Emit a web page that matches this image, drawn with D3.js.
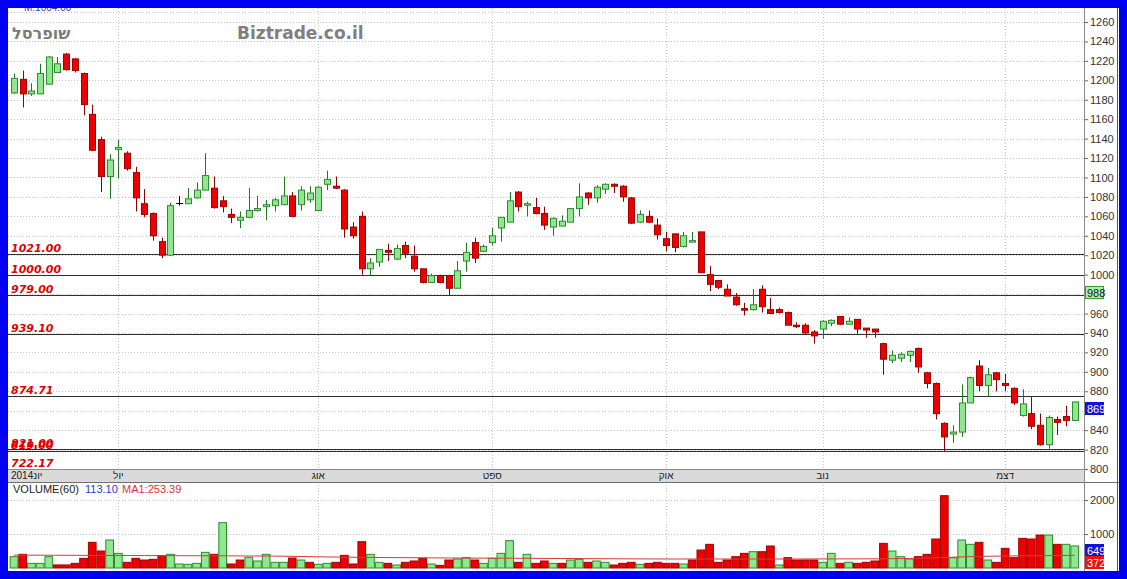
<!DOCTYPE html>
<html><head><meta charset="utf-8">
<script src="https://cdn.jsdelivr.net/npm/d3@7"></script>
<style>html,body{margin:0;padding:0;background:#fff;}svg{display:block}</style>
</head><body>
<svg id="c" width="1127" height="579"></svg>
<script>
// ---------- DATA ----------
const opens  = [1187,1201,1186,1186,1196,1208,1227,1222,1207,1165,1139,1101,1129,1125,1105,1073,1063,1034,1020,1074,
                1073,1079,1087,1089,1076,1062,1056,1059,1066,1070,1071,1072,1081,1072,1077,1066,1093,1091,1087,1049,
                1060,1006,1013,1025,1016,1030,1019,1006,992,999,999,986,1014,1033,1024,1033,1048,1054,1085,1072,
                1069,1063,1049,1050,1054,1068,1084,1079,1088,1093,1091,1079,1054,1060,1051,1037,1042,1029,1034,1044,
                1000,994,985,977,965,964,985,964,964,961,948,948,941,944,950,957,949,954,945,944,
                929,912,914,917,924,899,888,847,836,838,868,906,886,899,888,883,855,857,845,825,
                851,854,850];
const highs  = [1207,1210,1197,1217,1225,1224,1228,1223,1208,1175,1142,1124,1139,1127,1111,1088,1064,1038,1074,1081,
                1089,1095,1125,1101,1081,1068,1065,1089,1081,1077,1079,1101,1085,1091,1091,1091,1107,1101,1088,1054,
                1065,1017,1026,1032,1031,1034,1030,1006,1001,1000,1000,1014,1033,1038,1031,1048,1059,1085,1086,1075,
                1079,1070,1059,1061,1068,1094,1085,1092,1094,1094,1092,1080,1066,1066,1058,1044,1042,1044,1044,1044,
                1009,994,990,981,971,985,989,976,966,962,951,950,943,953,954,957,956,954,945,944,
                930,922,920,922,925,900,889,848,845,887,895,912,904,900,898,884,882,874,857,855,
                854,865,869];
const lows   = [1186,1172,1184,1186,1196,1208,1210,1208,1164,1127,1085,1078,1099,1107,1065,1059,1035,1017,1019,1071,
                1073,1078,1087,1068,1064,1053,1048,1058,1065,1056,1065,1072,1059,1066,1074,1066,1087,1088,1038,1037,
                1000,999,1008,1014,1015,1017,1003,991,992,991,978,986,1003,1012,1023,1030,1034,1054,1065,1060,
                1062,1046,1040,1050,1054,1060,1072,1074,1083,1084,1075,1052,1053,1053,1036,1024,1023,1028,1034,1002,
                983,985,978,968,958,963,961,960,960,948,945,939,929,934,947,948,949,939,935,935,
                897,909,910,910,899,883,851,818,827,833,868,880,875,880,880,866,854,841,824,821,
                835,844,850];
const closes = [1202,1186,1189,1207,1224,1217,1211,1210,1175,1128,1101,1118,1131,1109,1079,1062,1040,1020,1071,1074,
                1078,1087,1102,1069,1070,1059,1059,1066,1068,1072,1077,1081,1060,1087,1084,1090,1098,1089,1047,1040,
                1006,1012,1026,1023,1027,1022,1006,992,999,992,986,1004,1023,1017,1029,1040,1059,1076,1070,1073,
                1063,1051,1058,1055,1068,1080,1079,1090,1093,1091,1080,1053,1062,1054,1041,1030,1028,1040,1035,1002,
                990,987,978,969,964,969,967,960,961,948,947,940,937,952,953,949,952,944,943,941,
                913,917,918,921,905,888,857,833,838,868,894,886,897,892,886,868,867,844,825,853,
                848,850,869];
const volumes = [333,402,137,137,333,90,90,137,284,755,
                 500,823,431,167,284,235,255,363,402,118,
                 108,137,461,402,1333,118,235,314,206,402,
                 167,167,294,235,167,108,137,167,372,118,
                 774,402,167,137,88,167,206,284,118,78,
                 235,265,304,235,137,284,431,804,167,402,
                 137,206,137,137,235,255,167,206,167,88,
                 137,167,108,137,167,137,137,118,235,529,
                 696,167,235,333,431,480,480,647,88,304,
                 235,235,235,167,431,137,167,137,167,206,
                 725,500,333,265,333,402,853,2127,304,823,
                 696,755,235,167,578,304,872,853,970,970,
                 696,696,649];
// volume moving-average line at a few bars
const maIndex = [0,15,30,36,50,63,75,90,100,106,110,115,122];
const maValue = [380,365,350,325,295,280,265,265,270,300,335,355,372];

const monthLabels = ["2014יונ","יול","אוג","ספט","אוק","נוב","דצמ"];
const monthStarts = [0,12,35,55,75,93,114];

const levelValues = [1021.00,1000.00,979.00,939.10,874.71,821.00,819.00,722.17];
const levelLabels = ["1021.00","1000.00","979.00","939.10","874.71","821.00","819.00","722.17"];

const priceTicks = d3.range(800,1261,20);
const volTicks = [1000,2000];
const markPrice = 988, lastPrice = 869, lastVolume = 649, lastMA = 372;
const headerValue = "M:1004.00";
const volTitle = "VOLUME(60)", volValueText = "113.10", maText = "MA1:253.39";

// ---------- LAYOUT ----------
const svg = d3.select("#c");
const L = 8, R = 1084, T = 8, PB = 469, AB = 482, VB = 571, RE = 1119;
const x = d3.scaleBand().domain(d3.range(closes.length)).range([9.65, 1079.05]);
const cx = i => x(i) + x.bandwidth()/2;
const y = d3.scaleLinear().domain([800,1260]).range([469,22]);
const yv = d3.scaleLinear().domain([0,2000]).range([568,500]);

svg.append("rect").attr("x",0).attr("y",0).attr("width",1127).attr("height",579).attr("fill","#fff");

// grid
const grid = svg.append("g").attr("stroke","#c9c9c9").attr("stroke-dasharray","1,2").attr("stroke-width",1);
grid.selectAll("line.h").data(priceTicks).join("line")
  .attr("x1",L).attr("x2",R).attr("y1",d=>Math.round(y(d))+0.5).attr("y2",d=>Math.round(y(d))+0.5);
grid.append("line").attr("x1",L).attr("x2",R).attr("y1",12.5).attr("y2",12.5);
grid.selectAll("line.v").data(monthStarts.slice(1)).join("line")
  .attr("x1",d=>Math.round(cx(d))+0.5).attr("x2",d=>Math.round(cx(d))+0.5).attr("y1",T).attr("y2",VB);
grid.selectAll("line.vh").data(volTicks).join("line")
  .attr("x1",L).attr("x2",R).attr("y1",d=>Math.round(yv(d))+0.5).attr("y2",d=>Math.round(yv(d))+0.5);

// header texts
svg.append("text").attr("x",24).attr("y",11).attr("font-family","Liberation Sans, Arial, sans-serif")
  .attr("font-size",10).attr("fill","#3040a0").text(headerValue);
svg.append("text").attr("x",12).attr("y",39).attr("font-family","DejaVu Sans, sans-serif").attr("font-weight","bold")
  .attr("font-size",16).attr("fill","#7a7a7a").text("שופרסל");
svg.append("text").attr("x",237).attr("y",39).attr("font-family","DejaVu Sans, Verdana, sans-serif").attr("font-weight","bold")
  .attr("font-size",17).attr("fill","#808080").text("Biztrade.co.il");

// level lines
const levelY = v => Math.min(Math.round(y(v)), PB) + 0.5;
svg.append("g").selectAll("line").data(levelValues).join("line")
  .attr("x1",L).attr("x2",R).attr("y1",levelY).attr("y2",levelY)
  .attr("stroke","#303030").attr("stroke-width",1.2);
svg.append("g").selectAll("text").data(levelValues).join("text")
  .attr("x",11).attr("y",d=>levelY(d)-3)
  .attr("font-family","DejaVu Sans, Verdana, sans-serif").attr("font-weight","bold").attr("font-style","italic")
  .attr("font-size",11).attr("fill","#e00000").text((d,i)=>levelLabels[i]);

// candles
const dir = i => closes[i] > opens[i] ? 1 : (closes[i] < opens[i] ? -1 : 0);
const wickCol = i => dir(i) > 0 ? "#1f7a1f" : (dir(i) < 0 ? "#8b0000" : "#000");
const cg = svg.append("g");
const idx = d3.range(closes.length);
cg.selectAll("line.w").data(idx).join("line")
  .attr("x1",i=>Math.round(cx(i))+0.5).attr("x2",i=>Math.round(cx(i))+0.5)
  .attr("y1",i=>y(highs[i])).attr("y2",i=>y(lows[i]))
  .attr("stroke",wickCol).attr("stroke-width",1);
cg.selectAll("rect.b").data(idx.filter(i=>dir(i)!==0)).join("rect")
  .attr("x",i=>Math.round(cx(i))-3+0.5).attr("width",6)
  .attr("y",i=>y(Math.max(opens[i],closes[i])))
  .attr("height",i=>Math.max(1.5, Math.abs(y(opens[i])-y(closes[i]))))
  .attr("fill",i=>dir(i)>0?"#8ee88e":"#ee0000")
  .attr("stroke",i=>dir(i)>0?"#2e8b2e":"#a00000").attr("stroke-width",1);
cg.selectAll("line.d").data(idx.filter(i=>dir(i)===0)).join("line")
  .attr("x1",i=>cx(i)-3).attr("x2",i=>cx(i)+4)
  .attr("y1",i=>Math.round(y(closes[i]))+0.5).attr("y2",i=>Math.round(y(closes[i]))+0.5)
  .attr("stroke","#000").attr("stroke-width",1);

// x axis band
svg.append("rect").attr("x",L).attr("y",PB).attr("width",R-L).attr("height",AB-PB)
  .attr("fill","#dadada");
svg.append("line").attr("x1",L).attr("x2",R).attr("y1",PB+0.5).attr("y2",PB+0.5).attr("stroke","#8a8a8a");
svg.append("line").attr("x1",L).attr("x2",RE).attr("y1",AB+0.5).attr("y2",AB+0.5).attr("stroke","#707070");
svg.append("g").selectAll("text").data(monthStarts).join("text")
  .attr("x",(d,i)=> i===0 ? 11 : cx(d)).attr("y",479)
  .attr("text-anchor",(d,i)=> i===0 ? "start" : "middle")
  .attr("font-family","Liberation Sans, Arial, sans-serif").attr("font-size",10).attr("fill","#222")
  .text((d,i)=>monthLabels[i]);

// volume bars
const vdir = i => i===0 ? dir(0) >= 0 : closes[i] > closes[i-1];
svg.append("g").selectAll("rect").data(idx).join("rect")
  .attr("x",i=>x(i)+0.5).attr("width",x.bandwidth()-1)
  .attr("y",i=>yv(volumes[i])).attr("height",i=>yv(0)-yv(volumes[i]))
  .attr("fill",i=>vdir(i)?"#8ee88e":"#ee0000")
  .attr("stroke",i=>vdir(i)?"#2e8b2e":"#a00000").attr("stroke-width",1);
svg.append("path").datum(maIndex.map((d,k)=>[cx(d),yv(maValue[k])]))
  .attr("d",d3.line().curve(d3.curveMonotoneX)).attr("fill","none").attr("stroke","#d83a3a").attr("stroke-width",1);

svg.append("text").attr("x",13).attr("y",493).attr("font-family","Liberation Sans, Arial, sans-serif").attr("font-size",11)
  .attr("fill","#222").text(volTitle);
svg.append("text").attr("x",85).attr("y",493).attr("font-family","Liberation Sans, Arial, sans-serif").attr("font-size",11)
  .attr("fill","#2a3ad0").text(volValueText);
svg.append("text").attr("x",122).attr("y",493).attr("font-family","Liberation Sans, Arial, sans-serif").attr("font-size",11)
  .attr("fill","#e03030").text(maText);

// value boxes (price axis labels they cover are not drawn, as in the reference)
const boxes = [
  {y:y(markPrice), t:String(markPrice), fill:"#a8f0a8", stroke:"#3a9a3a", tc:"#222"},
  {y:y(lastPrice), t:String(lastPrice), fill:"#1212d8", stroke:"#1212d8", tc:"#fff"},
  {y:yv(lastVolume)-1.5, t:String(lastVolume), fill:"#1212d8", stroke:"#1212d8", tc:"#fff"},
  {y:yv(lastMA)+0.5, t:String(lastMA), fill:"#ee1111", stroke:"#ee1111", tc:"#fff"}
];
const shownTicks = priceTicks.filter(v => !boxes.slice(0,2).some(b => y(v) > b.y - 5 && y(v) < b.y + 18));

// right axes
const axP = svg.append("g").attr("transform",`translate(${R},0)`)
  .call(d3.axisRight(y).tickValues(shownTicks).tickSize(4).tickPadding(2).tickFormat(d3.format("d")));
const axV = svg.append("g").attr("transform",`translate(${R},0)`)
  .call(d3.axisRight(yv).tickValues(volTicks).tickSize(4).tickPadding(2).tickFormat(d3.format("d")));
[axP,axV].forEach(a=>{
  a.select(".domain").remove();
  a.selectAll("line").attr("stroke","#666");
  a.selectAll("text").attr("font-family","Liberation Sans, Arial, sans-serif").attr("font-size",11).attr("fill","#333");
});
svg.append("line").attr("x1",R+0.5).attr("x2",R+0.5).attr("y1",T).attr("y2",VB).attr("stroke","#8a8a8a");
svg.append("line").attr("x1",RE-1.5).attr("x2",RE-1.5).attr("y1",T).attr("y2",VB).attr("stroke","#555");

const bg = svg.append("g").selectAll("g").data(boxes).join("g");
bg.append("rect").attr("x",R+1.5).attr("y",d=>Math.round(d.y)+0.5).attr("width",18).attr("height",12)
  .attr("fill",d=>d.fill).attr("stroke",d=>d.stroke);
bg.append("text").attr("x",R+3).attr("y",d=>Math.round(d.y)+10.5)
  .attr("font-family","Liberation Sans, Arial, sans-serif").attr("font-size",11).attr("fill",d=>d.tc).text(d=>d.t);

// blue frame
svg.append("path").attr("fill-rule","evenodd").attr("fill","#0000f0")
  .attr("d",`M0,0H1127V579H0Z M${L},${T}V${VB}H${RE}V${T}Z`);
</script>
</body></html>
